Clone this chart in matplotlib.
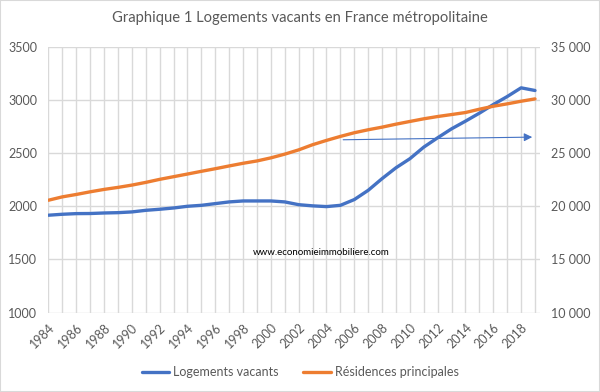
import matplotlib
matplotlib.use("Agg")
import matplotlib.pyplot as plt
from matplotlib.patches import Rectangle

years = list(range(1984, 2020))
vacants = [1916, 1925, 1931, 1932, 1937, 1940, 1947, 1962, 1972, 1984,
           2000, 2009, 2025, 2041, 2050, 2050, 2050, 2041, 2015, 2004,
           1997, 2009, 2063, 2150, 2260, 2362, 2447, 2556, 2644, 2728,
           2800, 2875, 2956, 3031, 3113, 3088]
residences = [20570, 20885, 21110, 21360, 21585, 21775, 21990, 22245, 22530, 22780,
              23030, 23285, 23530, 23790, 24040, 24260, 24550, 24900, 25300, 25785,
              26190, 26565, 26910, 27190, 27435, 27715, 27970, 28220, 28435, 28620,
              28810, 29120, 29400, 29625, 29870, 30090]
left_ticks = [1000, 1500, 2000, 2500, 3000, 3500]
right_ticks = [10000, 15000, 20000, 25000, 30000, 35000]
xlabel_years = list(range(1984, 2020, 2))
arrow_start = (2005.2, 2625)
arrow_end = (2018.8, 2650)

title = "Graphique 1 Logements vacants en France métropolitaine"
watermark = "www.economieimmobiliere.com"

plt.rcParams['font.family'] = ['Lato', 'DejaVu Sans']
grey = '#595959'
blue = '#4472C4'
orange = '#ED7D31'
gridc = '#D9D9D9'

fig = plt.figure(figsize=(6.0, 3.92), dpi=100)
fig.patches.append(Rectangle((0, 0), 1, 1, transform=fig.transFigure,
                             fill=False, edgecolor='#D9D9D9', linewidth=1.5))
ax = fig.add_axes([0.0808, 0.2023, 0.9 - 0.0808, 0.881 - 0.2023])
ax2 = ax.twinx()

ax.set_xlim(1984, 2019.36)
ax.set_ylim(1000, 3500)
ax2.set_ylim(10000, 35000)

ax.set_yticks(left_ticks)
ax.set_yticklabels([str(v) for v in left_ticks])
ax2.set_yticks(right_ticks)
ax2.set_yticklabels([f"{v:,}".replace(",", " ") for v in right_ticks])

ax.set_xticks(years, minor=True)
ax.set_xticks(xlabel_years)
ax.set_xticklabels([str(y) for y in xlabel_years], rotation=45, ha='right',
                   rotation_mode='anchor')

ax.grid(True, which='both', axis='x', color=gridc, linewidth=1)
ax.grid(True, which='major', axis='y', color=gridc, linewidth=1)
ax.set_axisbelow(True)

for a in (ax, ax2):
    for s in a.spines.values():
        s.set_visible(False)
    a.tick_params(which='both', length=0, colors=grey, labelsize=9)
ax.tick_params(axis='y', pad=8)
ax2.tick_params(axis='y', pad=8)
ax.tick_params(axis='x', pad=6)

l1, = ax.plot(years, vacants, color=blue, linewidth=2.4, solid_capstyle='round',
              label='Logements vacants', zorder=3)
l2, = ax2.plot(years, residences, color=orange, linewidth=2.4, solid_capstyle='round',
               label='Résidences principales', zorder=3)

ax2.annotate('', xy=arrow_end, xytext=arrow_start,
             xycoords=ax.transData, textcoords=ax.transData,
             arrowprops=dict(arrowstyle='-|>', color=blue, lw=0.8,
                             mutation_scale=12, shrinkA=0, shrinkB=0), zorder=4)

ax.text(2003.6, 1566, watermark, ha='center', va='center', fontsize=7, color='black')

fig.text(0.5, 0.953, title, ha='center', va='center', fontsize=10.6, color=grey)

fig.legend(handles=[l1, l2], loc='center', bbox_to_anchor=(0.5, 0.05),
           ncol=2, frameon=False, fontsize=9, labelcolor=grey,
           handlelength=2.2, columnspacing=2.0, handletextpad=0.3)

fig.savefig('out.png', dpi=100)
